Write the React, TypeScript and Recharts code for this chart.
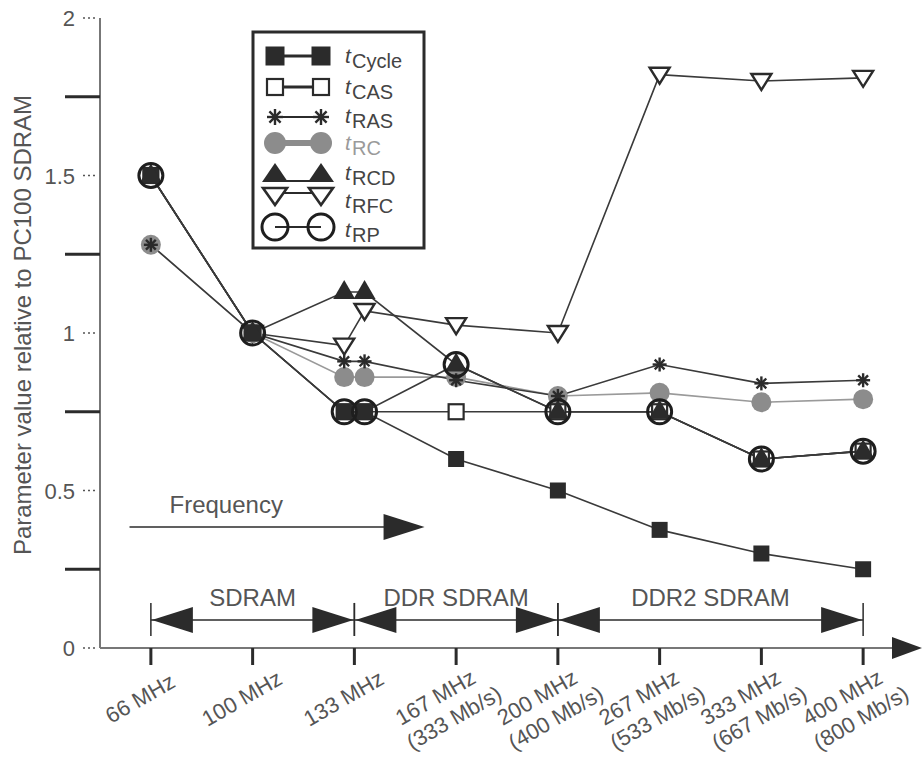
import React from "react";
import { ComposedChart, Customized, Line, ReferenceLine, XAxis, YAxis } from "recharts";

// x slots: 66, 100, 133 (SDRAM), 133 (DDR), 167, 200, 267, 333, 400 MHz
const xPositions = [0, 1, 1.9, 2.1, 3, 4, 5, 6, 7];

const tCycle = [1.5, 1.0, 0.75, 0.75, 0.6, 0.5, 0.375, 0.3, 0.25];
const tCAS = [1.5, 1.0, 0.75, 0.75, 0.75, 0.75, 0.75, 0.6, 0.625];
const tRAS = [1.28, 1.0, 0.91, 0.91, 0.85, 0.8, 0.9, 0.84, 0.85];
const tRC = [1.28, 1.0, 0.86, 0.86, 0.86, 0.8, 0.81, 0.78, 0.79];
const tRCD = [1.5, 1.0, 1.13, 1.13, 0.9, 0.75, 0.75, 0.6, 0.625];
const tRFC = [null, 1.0, 0.96, 1.07, 1.025, 1.0, 1.82, 1.8, 1.81];
const tRP = [1.5, 1.0, 0.75, 0.75, 0.9, 0.75, 0.75, 0.6, 0.625];

const tickValues = [0, 1, 2, 3, 4, 5, 6, 7];
const tickLine1 = ["66 MHz", "100 MHz", "133 MHz", "167 MHz", "200 MHz", "267 MHz", "333 MHz", "400 MHz"];
const tickLine2 = ["", "", "", "(333 Mb/s)", "(400 Mb/s)", "(533 Mb/s)", "(667 Mb/s)", "(800 Mb/s)"];

const yTicks = [0, 0.25, 0.5, 0.75, 1, 1.25, 1.5, 1.75, 2];
const yLabelled = [0, 0.5, 1, 1.5, 2];

const families = [
  { name: "SDRAM", from: 0, to: 2 },
  { name: "DDR SDRAM", from: 2, to: 4 },
  { name: "DDR2 SDRAM", from: 4, to: 7 }
];
const familyY = 0.089;
const freqArrow = { from: -0.21, to: 2.69, y: 0.384 };

const data = xPositions.map((x, i) => ({
  x,
  tCycle: tCycle[i],
  tCAS: tCAS[i],
  tRAS: tRAS[i],
  tRC: tRC[i],
  tRCD: tRCD[i],
  tRFC: tRFC[i],
  tRP: tRP[i]
}));

const FONT = "'Liberation Sans', Arial, Helvetica, sans-serif";
const INK = "#2b2b2b";
const TEXT = "#555";
const GRAY = "#8c8c8c";

// marker shapes
const square = (cx: number, cy: number, s: number, filled: boolean) => (
  <rect x={cx - s / 2} y={cy - s / 2} width={s} height={s} fill={filled ? INK : "#fff"} stroke={INK} strokeWidth={filled ? 0 : 2.2} />
);
const star = (cx: number, cy: number, r: number) => (
  <g stroke={INK} strokeWidth={2.4}>
    <line x1={cx - r} y1={cy} x2={cx + r} y2={cy} />
    <line x1={cx} y1={cy - r} x2={cx} y2={cy + r} />
    <line x1={cx - r * 0.7} y1={cy - r * 0.7} x2={cx + r * 0.7} y2={cy + r * 0.7} />
    <line x1={cx - r * 0.7} y1={cy + r * 0.7} x2={cx + r * 0.7} y2={cy - r * 0.7} />
  </g>
);
const upTri = (cx: number, cy: number) => (
  <polygon points={`${cx},${cy - 12} ${cx - 11},${cy + 7} ${cx + 11},${cy + 7}`} fill={INK} />
);
const downTri = (cx: number, cy: number) => (
  <polygon points={`${cx - 10},${cy - 7} ${cx + 10},${cy - 7} ${cx},${cy + 9}`} fill="#fff" stroke={INK} strokeWidth={2.4} />
);
const ring = (cx: number, cy: number, r: number) => (
  <circle cx={cx} cy={cy} r={r} fill="none" stroke="#1e1e1e" strokeWidth={3} />
);

const makeDot = (draw: (cx: number, cy: number) => React.ReactElement) => (props: any) => {
  const { cx, cy, value, index } = props;
  if (value == null || cx == null || cy == null) return <g key={`e-${index}`} />;
  return <g key={`d-${index}`}>{draw(cx, cy)}</g>;
};

const XTick = (props: any) => {
  const { x, y, payload } = props;
  const i = tickValues.indexOf(payload.value);
  const two = tickLine2[i] !== "";
  return (
    <g>
      <line x1={x} y1={y} x2={x} y2={y + 17} stroke={INK} strokeWidth={3} />
      <text
        transform={`translate(${two ? x - 17 : x - 7},${two ? 704 : 705}) rotate(-30)`}
        textAnchor="middle"
        fontFamily={FONT}
        fontSize={22}
        fill={TEXT}
      >
        <tspan x={0} dy={0}>{tickLine1[i]}</tspan>
        {two && <tspan x={6} dy={27}>{tickLine2[i]}</tspan>}
      </text>
    </g>
  );
};

const YTick = (props: any) => {
  const { x, y, payload } = props;
  const v = payload.value;
  if (yLabelled.includes(v)) {
    return (
      <g>
        <line x1={x - 17} y1={y} x2={x - 2} y2={y} stroke={TEXT} strokeWidth={1.5} strokeDasharray="2 3" />
        <text x={x - 25} y={y + 8} textAnchor="end" fontFamily={FONT} fontSize={22} fill={TEXT}>
          {String(v)}
        </text>
      </g>
    );
  }
  return <line x1={x - 35} y1={y} x2={x} y2={y} stroke={INK} strokeWidth={3} />;
};

const headLeft = (tx: number, y: number) => (
  <polygon points={`${tx},${y} ${tx + 41},${y - 13} ${tx + 41},${y + 13}`} fill={INK} />
);
const headRight = (tx: number, y: number) => (
  <polygon points={`${tx},${y} ${tx - 41},${y - 13} ${tx - 41},${y + 13}`} fill={INK} />
);

const Bracket = (props: any) => {
  const { x1, y1, x2, label } = props;
  return (
    <g>
      <line x1={x1} y1={y1 - 17} x2={x1} y2={y1 + 16} stroke={INK} strokeWidth={1.5} />
      <line x1={x2} y1={y1 - 17} x2={x2} y2={y1 + 16} stroke={INK} strokeWidth={1.5} />
      <line x1={x1} y1={y1} x2={x2} y2={y1} stroke={INK} strokeWidth={1.6} />
      {headLeft(x1 + 1, y1)}
      {headRight(x2 - 1, y1)}
      <text x={(x1 + x2) / 2} y={y1 - 14} textAnchor="middle" fontFamily={FONT} fontSize={24} fill={TEXT}>
        {label}
      </text>
    </g>
  );
};

const FreqArrow = (props: any) => {
  const { x1, y1, x2 } = props;
  return (
    <g>
      <line x1={x1} y1={y1} x2={x2 - 30} y2={y1} stroke={INK} strokeWidth={1.6} />
      {headRight(x2, y1)}
      <text x={x1 + 40} y={y1 - 14} fontFamily={FONT} fontSize={24} fill={TEXT}>
        Frequency
      </text>
    </g>
  );
};

const XAxisArrow = (props: any) => {
  const { x1, y1, x2 } = props;
  return (
    <g>
      <line x1={x1} y1={y1} x2={x2 - 10} y2={y1} stroke="#777" strokeWidth={2} />
      <polygon points={`${x2 + 8},${y1} ${x2 - 22},${y1 - 11} ${x2 - 22},${y1 + 11}`} fill={INK} />
    </g>
  );
};

const legendRows = [
  { sub: "Cycle", y: 56, base: 68 },
  { sub: "CAS", y: 87, base: 99 },
  { sub: "RAS", y: 117, base: 128 },
  { sub: "RC", y: 143, base: 155 },
  { sub: "RCD", y: 172, base: 185 },
  { sub: "RFC", y: 195, base: 213 },
  { sub: "RP", y: 227, base: 242 }
];

const LegendBox = () => {
  const L = 275;
  const R = 321;
  const r = legendRows;
  return (
    <g>
      <rect x={253} y={32} width={171} height={216} fill="#fff" stroke={INK} strokeWidth={3} />
      <line x1={L} y1={r[0].y} x2={R} y2={r[0].y} stroke={INK} strokeWidth={3} />
      {square(L, r[0].y, 19, true)}
      {square(R, r[0].y, 19, true)}
      <line x1={L} y1={r[1].y} x2={R} y2={r[1].y} stroke={INK} strokeWidth={3} />
      {square(L, r[1].y, 16, false)}
      {square(R, r[1].y, 16, false)}
      <line x1={L} y1={r[2].y} x2={R} y2={r[2].y} stroke={INK} strokeWidth={2} />
      {star(L, r[2].y, 8)}
      {star(R, r[2].y, 8)}
      <line x1={L} y1={r[3].y} x2={R} y2={r[3].y} stroke={GRAY} strokeWidth={6} />
      <circle cx={L} cy={r[3].y} r={11} fill={GRAY} />
      <circle cx={R} cy={r[3].y} r={11} fill={GRAY} />
      <line x1={L} y1={181} x2={R} y2={181} stroke={INK} strokeWidth={2} />
      <polygon points={`${L},163 ${L - 13},182 ${L + 13},182`} fill={INK} />
      <polygon points={`${R},163 ${R - 13},182 ${R + 13},182`} fill={INK} />
      <line x1={L} y1={193} x2={R} y2={193} stroke={INK} strokeWidth={2} />
      <polygon points={`${L - 12},188 ${L + 12},188 ${L},205`} fill="#fff" stroke={INK} strokeWidth={2.6} />
      <polygon points={`${R - 12},188 ${R + 12},188 ${R},205`} fill="#fff" stroke={INK} strokeWidth={2.6} />
      <line x1={L} y1={r[6].y} x2={R} y2={r[6].y} stroke={INK} strokeWidth={2} />
      <circle cx={L} cy={r[6].y} r={13} fill="none" stroke="#1e1e1e" strokeWidth={3} />
      <circle cx={R} cy={r[6].y} r={13} fill="none" stroke="#1e1e1e" strokeWidth={3} />
      {r.map((row) => (
        <g key={row.sub} fontFamily={FONT} fill={row.sub === "RC" ? "#9a9a9a" : "#444"}>
          <text x={345} y={row.base - 5} fontSize={21} fontStyle="italic">
            t
          </text>
          <text x={352} y={row.base} fontSize={20}>
            {row.sub}
          </text>
        </g>
      ))}
    </g>
  );
};

const YTitle = () => (
  <text
    transform="translate(31,325) rotate(-90)"
    textAnchor="middle"
    fontFamily={FONT}
    fontSize={24}
    fill={TEXT}
  >
    Parameter value relative to PC100 SDRAM
  </text>
);

export default function App() {
  return (
    <div style={{ position: "absolute", left: 0, top: 0, background: "#fff" }}>
      <ComposedChart width={924} height={760} data={data} margin={{ top: 18, right: 10, bottom: 12, left: 0 }}>
        <XAxis
          type="number"
          dataKey="x"
          domain={[-0.5, 7.5]}
          ticks={tickValues}
          interval={0}
          axisLine={false}
          tickLine={false}
          tickSize={0}
          tickMargin={0}
          height={100}
          tick={<XTick />}
        />
        <YAxis
          type="number"
          domain={[0, 2]}
          ticks={yTicks}
          interval={0}
          width={100}
          tickLine={false}
          tickSize={0}
          tickMargin={0}
          axisLine={{ stroke: "#777", strokeWidth: 2 }}
          tick={<YTick />}
        />
        <ReferenceLine y={0} shape={(p: any) => <XAxisArrow {...p} />} />
        <ReferenceLine
          segment={[
            { x: freqArrow.from, y: freqArrow.y },
            { x: freqArrow.to, y: freqArrow.y }
          ]}
          shape={(p: any) => <FreqArrow {...p} />}
        />
        {families.map((f) => (
          <ReferenceLine
            key={f.name}
            segment={[
              { x: f.from, y: familyY },
              { x: f.to, y: familyY }
            ]}
            shape={(p: any) => <Bracket {...p} label={f.name} />}
          />
        ))}
        <Line type="linear" dataKey="tRFC" stroke="#3a3a3a" strokeWidth={1.6} dot={makeDot(downTri)} isAnimationActive={false} />
        <Line type="linear" dataKey="tRC" stroke="#9a9a9a" strokeWidth={1.6} dot={makeDot((cx, cy) => <circle cx={cx} cy={cy} r={10} fill={GRAY} />)} isAnimationActive={false} />
        <Line type="linear" dataKey="tRAS" stroke="#3a3a3a" strokeWidth={1.6} dot={makeDot((cx, cy) => star(cx, cy, 7))} isAnimationActive={false} />
        <Line type="linear" dataKey="tCAS" stroke="#3a3a3a" strokeWidth={1.6} dot={makeDot((cx, cy) => square(cx, cy, 15, false))} isAnimationActive={false} />
        <Line type="linear" dataKey="tCycle" stroke="#3a3a3a" strokeWidth={1.6} dot={makeDot((cx, cy) => square(cx, cy, 16, true))} isAnimationActive={false} />
        <Line type="linear" dataKey="tRCD" stroke="#3a3a3a" strokeWidth={1.6} dot={makeDot(upTri)} isAnimationActive={false} />
        <Line type="linear" dataKey="tRP" stroke="#3a3a3a" strokeWidth={1.6} dot={makeDot((cx, cy) => ring(cx, cy, 12))} isAnimationActive={false} />
        <Customized component={LegendBox} />
        <Customized component={YTitle} />
      </ComposedChart>
    </div>
  );
}
